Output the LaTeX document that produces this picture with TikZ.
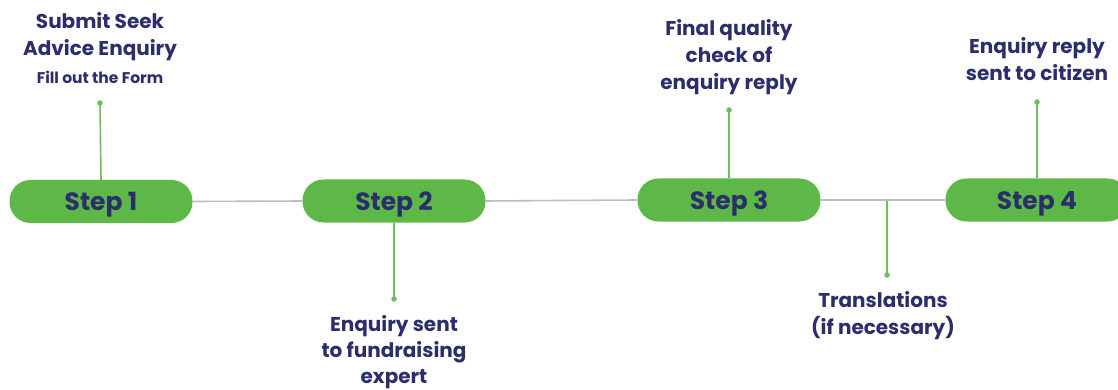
\documentclass[tikz,border=0pt]{standalone}
\usepackage{fontspec}
\setmainfont{Poppins}
\definecolor{pill}{HTML}{5DB848}
\definecolor{navy}{HTML}{2B2E6B}
\definecolor{conn}{HTML}{6CBF5B}
\definecolor{axis}{HTML}{BDBDBD}
\tikzset{
  stepbox/.style={fill=pill, rounded corners=21pt, minimum width=183pt, minimum height=43pt,
    inner sep=0pt, text=navy, text height=18pt, text depth=0pt, font=\fontsize{25}{28}\selectfont\bfseries},
  lbl/.style={text=navy, align=center, inner sep=0pt, font=\fontsize{20}{27}\selectfont\bfseries},
  lbltight/.style={lbl, font=\fontsize{20}{26}\selectfont\bfseries},
  small/.style={text=navy, align=center, inner sep=0pt, font=\fontsize{15.5}{18}\selectfont\bfseries},
  axisline/.style={draw=axis, line width=1.6pt},
  connline/.style={draw=conn, line width=1.6pt},
  dot/.style={fill=conn, circle, inner sep=0pt, minimum size=5.5pt}
}
\begin{document}
\begin{tikzpicture}[x=1pt,y=-1pt]
\useasboundingbox (0,0) rectangle (1118,390);
\clip (0,0) rectangle (1118,390);
\node[stepbox] (s1) at (101,201.5) {Step 1};
\node[stepbox] (s2) at (394,201) {Step 2};
\node[stepbox] (s3) at (729,200) {Step 3};
\node[stepbox] (s4) at (1037,200) {Step 4};
\coordinate (t) at (887,200.5);
\draw[axisline] (s1.east) -- (s2.west);
\draw[axisline] (s2.east) -- (s3.west);
\draw[axisline] (s3.east) -- (s4.west);
\node[dot] (d1) at (100,103) {};
\node[dot] (d2) at (394,299) {};
\node[dot] (d3) at (729,110) {};
\node[dot] (d4) at (1037,102) {};
\node[dot] (dt) at (887,275) {};
\draw[connline] (s1.north) -- (d1.center);
\draw[connline] (s2.south) -- (d2.center);
\draw[connline] (s3.north) -- (d3.center);
\draw[connline] (s4.north) -- (d4.center);
\draw[connline] (t) -- (dt.center);
\node[lbl] (l1) at (100,37) {Submit Seek\\Advice Enquiry};
\node[small] (l1b) at (100,77) {Fill out the Form};
\node[lbltight] (l2) at (394,352.5) {Enquiry sent\\to fundraising\\expert};
\node[lbl] (l3) at (729,57) {Final quality\\check of\\enquiry reply};
\node[lbl] (l4) at (1037,59) {Enquiry reply\\sent to citizen};
\node[lbl] (lt) at (883,316) {Translations\\(if necessary)};
\end{tikzpicture}
\end{document}
